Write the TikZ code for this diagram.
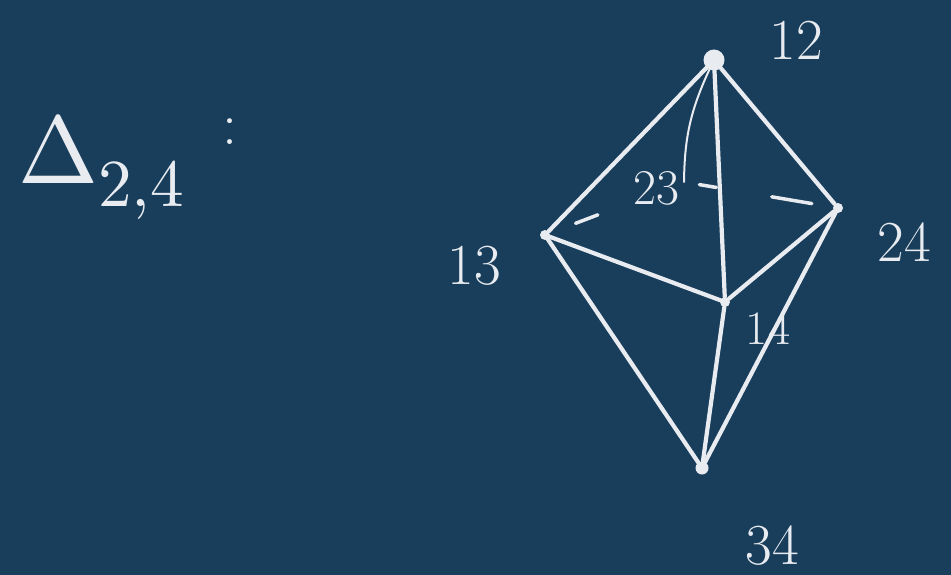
\documentclass[tikz,border=0pt]{standalone}
\usepackage{unicode-math}
\setmathfont{Latin Modern Math}
\usetikzlibrary{calc,positioning}
\definecolor{board}{RGB}{25,62,92}
\definecolor{chalk}{RGB}{232,236,240}

\begin{document}
\begin{tikzpicture}[
  x=1pt, y=-1pt,
  vtx/.style={circle, fill=chalk, inner sep=0pt, minimum size=10pt},
  vlabel/.style={text=chalk, inner sep=0pt, font=\fontsize{58}{60}\selectfont},
  edge/.style={draw=chalk, line width=4.2pt, line cap=round},
  thinedge/.style={draw=chalk, line width=2pt, line cap=round},
  hidden/.style={draw=chalk, line width=3.5pt, line cap=round}
]
  \fill[board] (0,0) rectangle (951,575);
  \useasboundingbox (0,0) rectangle (951,575);

  % title
  \node[text=chalk, inner sep=0pt, anchor=base west,
    font=\fontsize{96}{100}\selectfont] (title) at (18,183)
    {$\Delta_{2,4}$\hspace{0.4em}\raisebox{0.4em}{\fontsize{60}{60}\selectfont :}};

  % vertices of the octahedron
  \node[vtx, minimum size=21pt] (v12) at (714,60) {};
  \node[vtx] (v13) at (545,235) {};
  \node[vtx] (v24) at (838,208) {};
  \node[vtx] (v14) at (725,302) {};
  \node[vtx, minimum size=13pt] (v34) at (702,468) {};
  \coordinate (v23) at (684,182);

  % labels
  \node[vlabel] (l12) at (796,40) {12};
  \node[vlabel] (l13) at (474,266) {13};
  \node[vlabel] (l24) at (904,242) {24};
  \node[vlabel, font=\fontsize{48}{50}\selectfont] (l14) at (768,328) {14};
  \node[vlabel, font=\fontsize{50}{52}\selectfont] (l23) at (656,188) {23};
  \node[vlabel] (l34) at (772,546) {34};

  % visible edges
  \draw[edge] (v12) -- (v13);
  \draw[edge] (v12) -- (v14);
  \draw[edge] (v12) -- (v24);
  \draw[edge] (v13) -- (v14);
  \draw[edge] (v14) -- (v24);
  \draw[edge] (v13) -- (v34);
  \draw[edge] (v14) -- (v34);
  \draw[edge] (v24) -- (v34);
  \draw[thinedge] (v12) to[bend right=12] (v23);

  % hidden edges through 23
  \draw[hidden] ($(v13)!0.22!(v23)$) -- ($(v13)!0.38!(v23)$);
  \draw[hidden] ($(v23)!0.10!(v24)$) -- ($(v23)!0.21!(v24)$);
  \draw[hidden] ($(v23)!0.57!(v24)$) -- ($(v23)!0.83!(v24)$);
\end{tikzpicture}
\end{document}
